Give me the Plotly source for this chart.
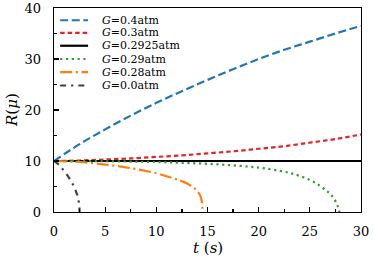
import plotly.graph_objects as go

# ---- data ----
labels = ["0.4", "0.3", "0.2925", "0.29", "0.28", "0.0"]

t_04 = [0, 2.5, 5, 7.5, 10, 12.5, 15, 17.5, 20, 22.5, 25, 27.5, 30]
R_04 = [10, 13.3, 16.2, 18.9, 21.4, 23.7, 25.9, 28.0, 30.0, 31.8, 33.4, 35.0, 36.5]

t_03 = [0, 2.5, 5, 7.5, 10, 12.5, 15, 17.5, 20, 22.5, 25, 27.5, 30]
R_03 = [10, 10.1, 10.3, 10.5, 10.8, 11.1, 11.5, 11.9, 12.4, 12.9, 13.6, 14.3, 15.2]

t_02925 = [0, 30]
R_02925 = [10, 10]

t_029 = [0, 5, 10, 12.5, 15, 17.5, 20, 22, 23.5, 25, 26, 26.8, 27.3, 27.7, 27.9]
R_029 = [10, 9.95, 9.8, 9.65, 9.45, 9.15, 8.7, 8.1, 7.4, 6.3, 5.1, 3.9, 2.8, 1.3, 0]

t_028 = [0, 2.5, 5, 7.5, 10, 11, 12, 13, 13.5, 14, 14.3, 14.45, 14.5]
R_028 = [10, 9.8, 9.3, 8.6, 7.6, 7.0, 6.4, 5.6, 5.0, 4.1, 3.2, 2.0, 0]

t_00 = [0, 0.5, 1.0, 1.5, 1.8, 2.1, 2.3, 2.45, 2.5]
R_00 = [10, 9.2, 8.0, 6.6, 5.6, 4.3, 3.1, 1.6, 0]

series_t = [t_04, t_03, t_02925, t_029, t_028, t_00]
series_R = [R_04, R_03, R_02925, R_029, R_028, R_00]

x_ticks = [0, 5, 10, 15, 20, 25, 30]
y_ticks = [0, 10, 20, 30, 40]

# ---- styles ----
colors = ["#1f77b4", "#e3242b", "#000000", "#2ca02c", "#ff7f0e", "#404040"]
dashes = ["8px,3.6px", "4.5px,3px", "solid", "2.2px,3.6px",
          "12px,3.6px,2.2px,3.6px", "6px,5px,2.2px,5px"]

FONT = "DejaVu Serif"

fig = go.Figure()
for t, R, c, d in zip(series_t, series_R, colors, dashes):
    fig.add_trace(go.Scatter(x=t, y=R, mode="lines",
                             line=dict(color=c, dash=d, width=2.2),
                             line_shape="spline", showlegend=False,
                             hoverinfo="skip"))

# manual compact legend
row_y = [0.940, 0.878, 0.815, 0.750, 0.686, 0.620]
for lab, c, d, yy in zip(labels, colors, dashes, row_y):
    fig.add_shape(type="line", xref="paper", yref="paper",
                  x0=0.02, x1=0.111, y0=yy, y1=yy,
                  line=dict(color=c, dash=d, width=2.2))
    fig.add_annotation(xref="paper", yref="paper", x=0.150, y=yy,
                       xanchor="left", yanchor="middle", showarrow=False,
                       text="<i>G</i>=" + lab + "atm",
                       font=dict(family=FONT, size=11, color="black"))

# axis titles as annotations for exact placement
fig.add_annotation(xref="paper", yref="paper", x=0.5, y=-0.175,
                   xanchor="center", yanchor="middle", showarrow=False,
                   text="<i>t</i> (<i>s</i>)",
                   font=dict(family=FONT, size=15, color="black"))
fig.add_annotation(xref="paper", yref="paper", x=-0.137, y=0.5,
                   xanchor="center", yanchor="middle", showarrow=False,
                   text="<i>R</i>(<i>μ</i>)", textangle=-90,
                   font=dict(family=FONT, size=15, color="black"))

axis_common = dict(showline=True, linecolor="black", linewidth=1.3, mirror=True,
                   ticks="inside", ticklen=5, tickwidth=1.2, tickcolor="black",
                   showgrid=False, zeroline=False, automargin=False,
                   tickfont=dict(family=FONT, size=13, color="black"))

fig.update_layout(
    width=374, height=262,
    margin=dict(l=54, r=13, t=8, b=50),
    plot_bgcolor="white", paper_bgcolor="white",
    hovermode=False,
    xaxis=dict(range=[0, 30], tickvals=x_ticks, ticklabelstandoff=7,
               minor=dict(dtick=2.5, ticks="inside", ticklen=3, tickcolor="black"),
               **axis_common),
    yaxis=dict(range=[0, 40], tickvals=y_ticks, ticklabelstandoff=9,
               minor=dict(dtick=5, ticks="inside", ticklen=3, tickcolor="black"),
               **axis_common),
)

fig.write_html("out.html",
               config={"displayModeBar": False, "staticPlot": True},
               post_script="document.body.style.margin='0';document.body.style.overflow='hidden';")
